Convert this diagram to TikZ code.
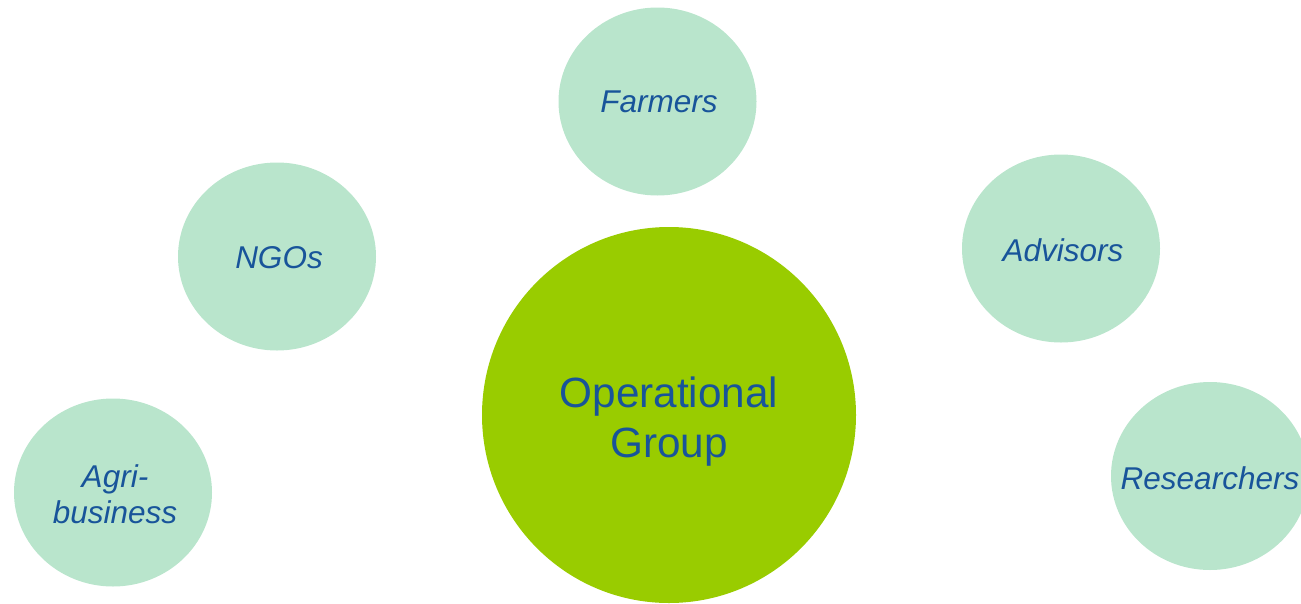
\documentclass[tikz,border=0pt]{standalone}
\usepackage{fontspec}
\setmainfont{Liberation Sans}
\usetikzlibrary{shapes.geometric}
\definecolor{bubgreen}{RGB}{185,229,204}
\definecolor{coregreen}{RGB}{153,204,0}
\definecolor{txtblue}{RGB}{24,84,154}
\tikzset{
  bub/.style={ellipse, fill=bubgreen, draw=none, inner sep=0pt, minimum width=198pt, minimum height=188pt},
  bubtext/.style={text=txtblue, font=\fontsize{31.5}{36}\selectfont\itshape, align=center, inner sep=0pt},
  coretext/.style={text=txtblue, font=\fontsize{42.3}{50}\selectfont, align=center, inner sep=0pt}
}
\begin{document}
\begin{tikzpicture}[x=1pt,y=-1pt]
\useasboundingbox (0,0) rectangle (1301,603);
\clip (0,0) rectangle (1301,603);
\node[ellipse, fill=coregreen, inner sep=0pt, minimum width=374pt, minimum height=376pt] (core) at (669,415) {};
\node[coretext] (coret) at (669,422) {Operational\\Group};
\node[bub] (farmers) at (657.5,101.5) {};
\node[bubtext] (farmerst) at (659,102) {Farmers};
\node[bub] (ngos) at (277,256.5) {};
\node[bubtext] (ngost) at (279,258) {NGOs};
\node[bub] (advisors) at (1061,248.5) {};
\node[bubtext] (advisorst) at (1063,250) {Advisors};
\node[bub] (researchers) at (1210,476) {};
\node[bubtext] (researcherst) at (1210,478) {Researchers};
\node[bub] (agri) at (113,492.5) {};
\node[bubtext] (agrit) at (115,494) {Agri-\\business};
\end{tikzpicture}
\end{document}
